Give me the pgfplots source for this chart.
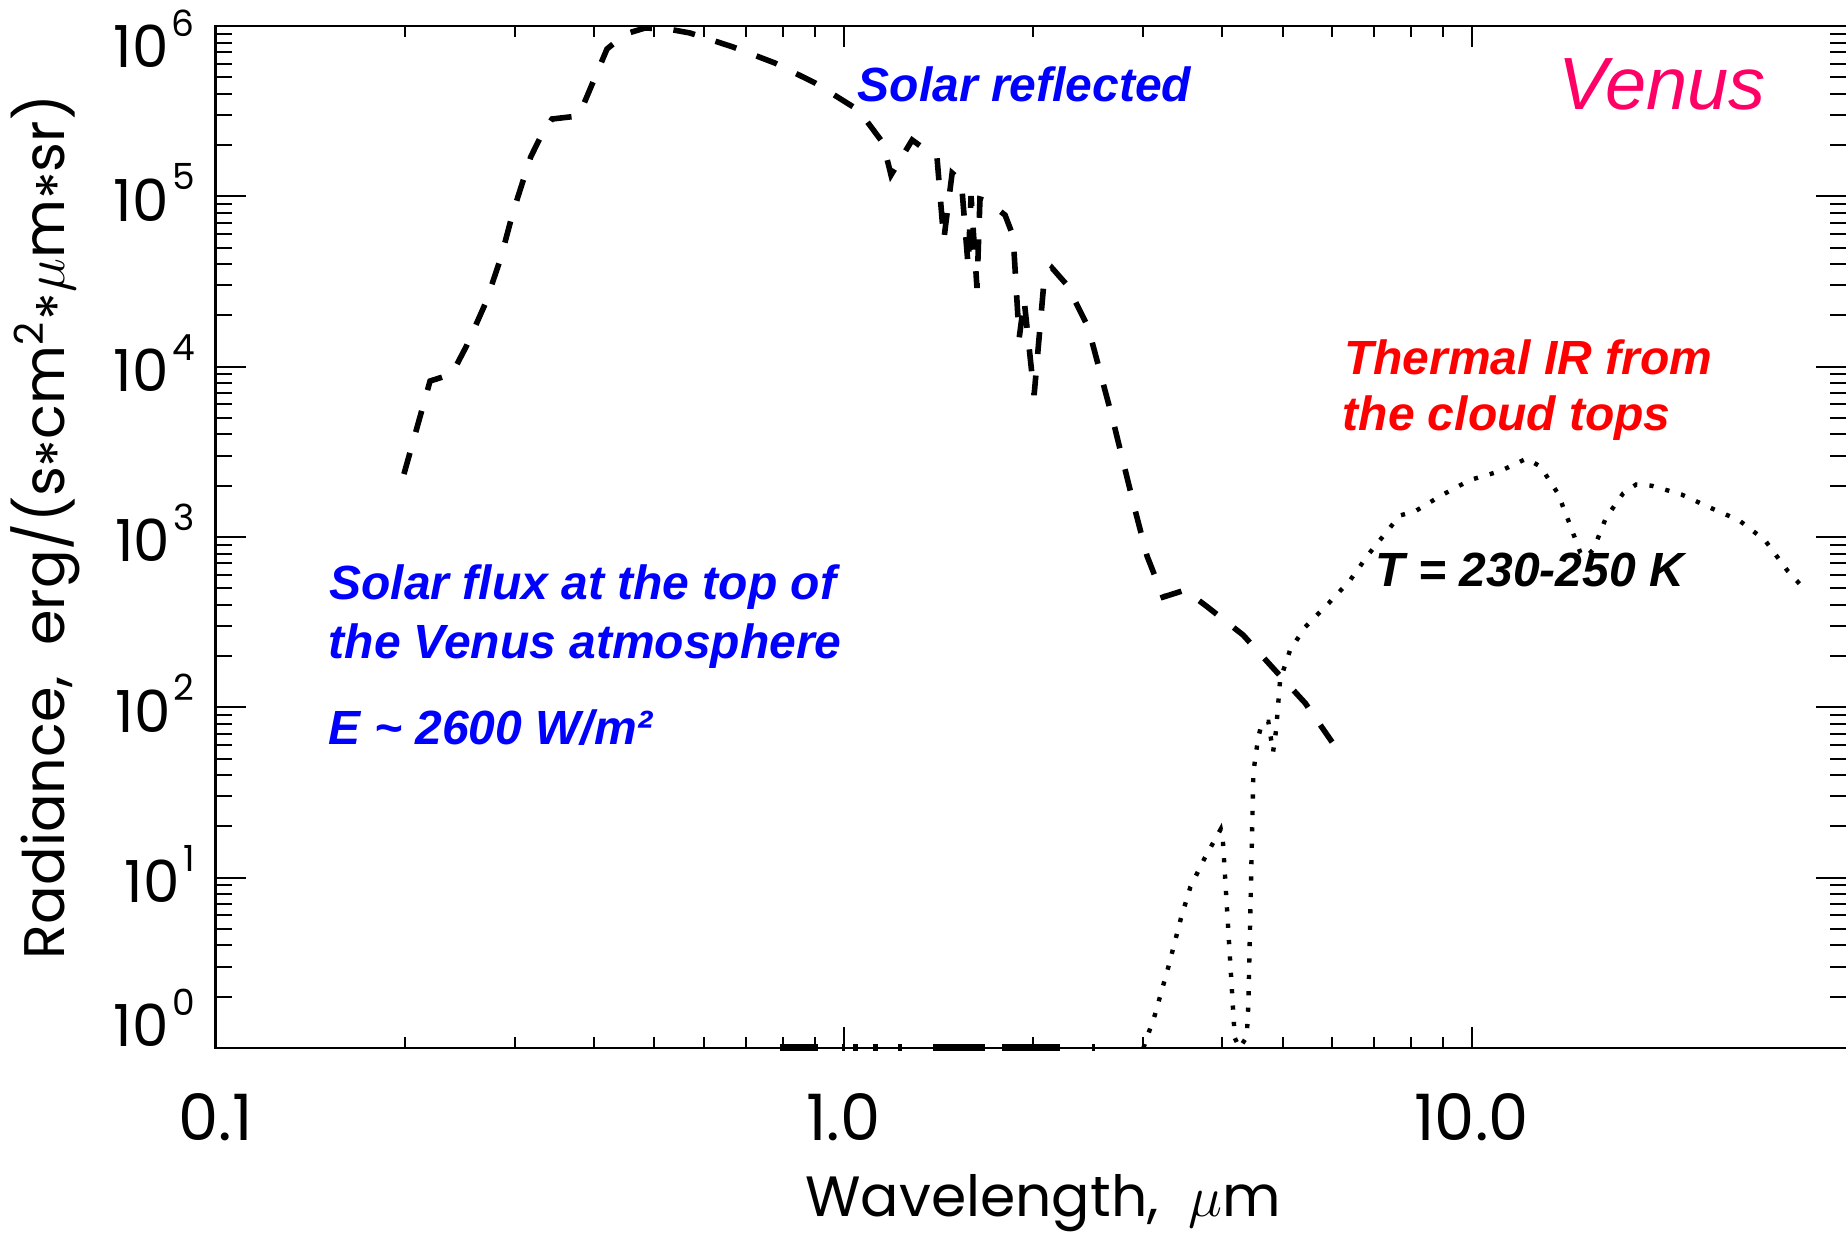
\documentclass[border=0pt]{standalone}
\usepackage{pgfplots}
\pgfplotsset{compat=1.18}
\usepackage{fontspec}
\newfontfamily\labfont{Poppins}
\newfontfamily\arialfont{Liberation Sans}
\definecolor{venus}{RGB}{255,0,102}
\definecolor{pblue}{RGB}{0,0,255}
\definecolor{pred}{RGB}{255,0,0}
% y tick label: 10^k with a fixed vertical offset of the baseline from the tick
\newcommand{\ytl}[2]{\raisebox{#2}[0pt][0pt]{\labfont\fontsize{14.5}{16}\selectfont 10\kern0.8pt\raisebox{7.9pt}{\fontsize{9}{10}\selectfont #1}}}
\newcommand{\st}{\raisebox{-0.25em}{*}}

\begin{document}
\begin{tikzpicture}
\useasboundingbox (-53.875pt,-46.25pt) rectangle (407.625pt,262pt);
\begin{axis}[
  at={(0,0)}, anchor=south west,
  scale only axis, width=407.875pt, height=255.5pt,
  xmode=log, ymode=log,
  xmin=0.1, xmax=39.6, ymin=1, ymax=1e6,
  clip=false,
  axis line style={line width=0.65pt},
  tick align=inside,
  tick style={black, line width=0.5pt},
  xtick={0.1,1,10}, xticklabels={0.1,1.0,10.0},
  ytick={1,10,100,1000,10000,100000,1000000},
  yticklabels={\ytl{0}{0.25pt},\ytl{1}{-6.25pt},\ytl{2}{-6.25pt},\ytl{3}{-6.25pt},\ytl{4}{-6.25pt},\ytl{5}{-6.25pt},\ytl{6}{-10.5pt}},
  xtick style={/pgfplots/major tick length=5.25pt,/pgfplots/minor tick length=2.75pt},
  ytick style={/pgfplots/major tick length=7.75pt,/pgfplots/minor tick length=4.25pt},
  xticklabel style={font=\labfont\fontsize{16}{18}\selectfont, inner sep=0pt, anchor=north, yshift=-11.25pt},
  yticklabel style={inner sep=0pt, anchor=east, xshift=-5pt},
  xlabel={Wavelength,\ \ $\mu$m},
  xlabel style={font=\labfont\fontsize{14.2}{17}\selectfont, at={(axis description cs:0.5075,-0.165)}, anchor=base, inner sep=0pt},
  ylabel={Radiance,\ \ erg/(s\st cm\textsuperscript{2}\st$\mu$m\st sr)},
  ylabel style={font=\labfont\fontsize{14.3}{17}\selectfont, at={(axis description cs:-0.1045,0.5098)}, anchor=center, inner sep=0pt},
]
% solar spectrum (dashed)
\addplot[black, line width=1.4pt, dash pattern=on 5.5pt off 5.4pt] coordinates {
(0.1996,2341) (0.2196,8234) (0.2379,9047) (0.2514,13390) (0.2696,23950)
(0.2849,44020) (0.2977,80850) (0.3177,170800) (0.3311,232200) (0.3434,284400)
(0.3777,296200) (0.3805,308400) (0.4201,732800) (0.4490,897400) (0.4830,973300)
(0.5254,960300) (0.5694,910000) (0.6668,753000) (0.7775,606400) (0.9008,462800)
(1.043,330000) (1.062,312600) (1.156,205600) (1.190,133400) (1.286,214100)
(1.409,167900) (1.444,55400) (1.489,137000) (1.540,122980) (1.579,38970)
(1.596,100400) (1.631,28940) (1.649,96430) (1.692,93850) (1.808,77660)
(1.862,58470) (1.904,14720) (1.939,24610) (2.011,6810) (2.086,32250)
(2.148,37930) (2.269,30140) (2.451,17080) (2.677,5059) (2.912,1439)
(3.043,772) (3.228,444) (3.498,488) (3.792,390) (4.326,266)
(4.829,170) (5.432,106) (5.996,62.5)
};
% thermal emission (dotted)
\addplot[black, line width=1.1pt, dash pattern=on 1.05pt off 3.05pt] coordinates {
(3.002,1) (3.133,1.573) (3.290,2.993) (3.443,5.73) (3.566,8.80)
(3.760,13.07) (3.987,19.27) (4.017,16.61) (4.091,5.46) (4.167,1.776)
(4.197,1.146) (4.27,1) (4.385,1.162) (4.411,1.80) (4.493,41.6)
(4.571,65.9) (4.638,81.9) (4.746,82.2) (4.829,54.6) (4.883,73.5)
(4.955,144.4) (5.140,216.7) (5.432,295.8) (5.918,407.6) (6.401,555.4)
(6.864,798) (7.384,1113) (7.680,1336) (8.127,1415) (8.942,1751)
(9.942,2161) (11.11,2438) (12.23,2886) (12.87,2591) (13.72,1803)
(14.34,1181) (14.90,807) (15.22,762) (15.64,849) (16.36,1293)
(17.43,1803) (18.28,2034) (19.36,1999) (21.58,1777) (24.06,1478)
(26.64,1255) (29.31,957.7) (31.86,631.5) (33.31,529)
};
% pieces of the spectrum lying on the lower axis
\addplot[black, line width=1.75pt] coordinates {(0.7924,1) (0.9108,1)};
\addplot[black, line width=1.75pt] coordinates {(0.9934,1) (1.0055,1)};
\addplot[black, line width=1.75pt] coordinates {(1.0354,1) (1.0546,1)};
\addplot[black, line width=1.75pt] coordinates {(1.114,1) (1.135,1)};
\addplot[black, line width=1.75pt] coordinates {(1.221,1) (1.239,1)};
\addplot[black, line width=1.75pt] coordinates {(1.390,1) (1.680,1)};
\addplot[black, line width=1.75pt] coordinates {(1.786,1) (2.212,1)};
\addplot[black, line width=1.75pt] coordinates {(2.484,1) (2.515,1)};
\end{axis}
\tikzset{ann/.style={anchor=base west, inner sep=0pt, font=\arialfont\bfseries\itshape\fontsize{12}{14}\selectfont}}
\node[ann, text=pblue] at (160.4pt,236.6pt) {Solar reflected};
\node[anchor=base west, inner sep=0pt, text=venus, font=\arialfont\itshape\fontsize{18.5}{22}\selectfont] at (335.6pt,234.65pt) {Venus};
\node[ann, text=pred] at (282pt,168.25pt) {Thermal IR from};
\node[ann, text=pred] at (281.6pt,154.3pt) {the cloud tops};
\node[ann, text=black] at (289.85pt,115.25pt) {T = 230-250 K};
\node[ann, text=pblue] at (28.3pt,112pt) {Solar flux at the top of};
\node[ann, text=pblue] at (28.1pt,97.4pt) {the Venus atmosphere};
\node[ann, text=pblue] at (28.1pt,75.75pt) {E \textasciitilde\ 2600 W/m²};
\end{tikzpicture}
\end{document}
